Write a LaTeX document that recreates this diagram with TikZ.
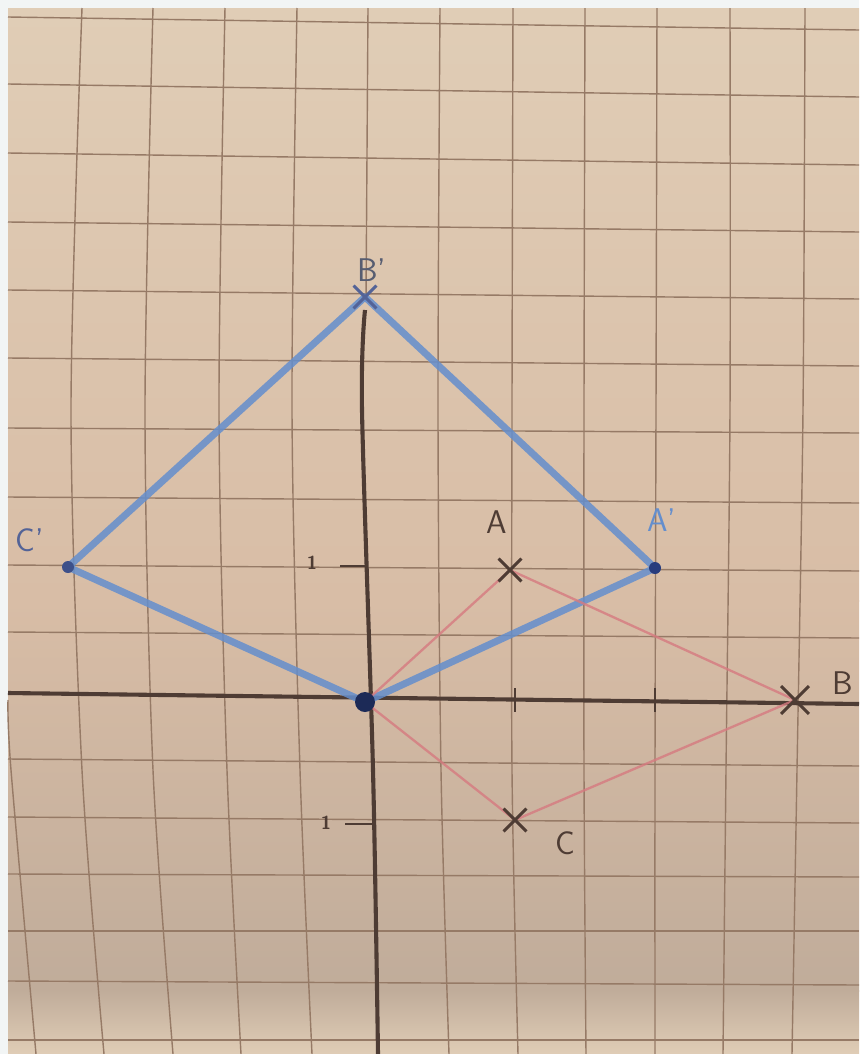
\documentclass[tikz,border=0pt]{standalone}
\usetikzlibrary{shapes.misc}
\definecolor{margin}{RGB}{242,245,245}
\definecolor{paperTop}{RGB}{224,205,182}
\definecolor{paperMid}{RGB}{216,189,166}
\definecolor{paperLow}{RGB}{192,172,154}
\definecolor{gridInk}{RGB}{150,122,102}
\definecolor{pencil}{RGB}{78,60,52}
\definecolor{bluePen}{RGB}{100,142,205}
\definecolor{darkBlue}{RGB}{40,60,125}
\definecolor{redPen}{RGB}{214,122,128}
\tikzset{
  gridline/.style={gridInk, line width=1.2pt},
  axis/.style={pencil, line width=3.5pt},
  imageside/.style={bluePen, line width=6pt, line cap=round, opacity=0.85},
  origside/.style={redPen, line width=2pt, opacity=0.8},
  crossmark/.style={cross out, draw=pencil, line width=2.5pt, minimum size=0.6cm, inner sep=0pt},
  handtext/.style={font=\sffamily\fontsize{28}{28}\selectfont},
}
\begin{document}
\begin{tikzpicture}[x=0.03cm, y=-0.03cm]
  \useasboundingbox (0,0) rectangle (859,1054);
  % paper
  \fill[margin] (0,0) rectangle (859,1054);
  \shade[top color=paperTop, bottom color=paperMid] (8,8) rectangle (859,601);
  \shade[top color=paperMid, bottom color=paperLow] (8,600) rectangle (859,991);
  \shade[top color=paperLow, bottom color=paperTop] (8,990) rectangle (859,1054);
  % squares of the paper
  \foreach \yl/\yr in {17/30, 84/97, 153/165, 222/232, 290/299, 358/366, 428/433,
      497/503, 565/571, 632/638, 759/766, 817/823, 874/877, 931/931, 981/985, 1040/1040}
    \draw[gridline] (8,\yl) -- (859,\yr);
  \foreach \a/\b/\c/\d in {82/71/82/104, 153/145/153/173, 225/219/227/241,
      297/292/300/312, 440/438/441/449, 513/512/512/518, 585/584/584/586,
      657/656/655/655, 730/730/726/723, 805/803/797/792}
    \draw[gridline] plot[smooth] coordinates {(\a,8) (\b,410) (\c,770) (\d,1054)};
  \draw[gridline] plot[smooth] coordinates {(8,700) (11,770) (36,1054)};
  \draw[gridline] (368,8) -- (366,300);
  % points
  \coordinate (O) at (365,702);
  \coordinate (A) at (510,570);
  \coordinate (B) at (795,700);
  \coordinate (C) at (515,820);
  \coordinate (Ap) at (655,568);
  \coordinate (Bp) at (365,297);
  \coordinate (Cp) at (68,567);
  \coordinate (xl) at (8,693);
  \coordinate (xr) at (859,704);
  % axes
  \draw[axis] (xl) -- (xr);
  \draw[axis] plot[smooth] coordinates {(365,310) (362,410) (373,770) (378,1054)};
  \draw[axis, line width=2pt] (515,688) -- (515,712);
  \draw[axis, line width=2pt] (655,688) -- (655,712);
  \draw[axis, line width=2pt] (340,566) -- (365,566);
  \draw[axis, line width=2pt] (345,824) -- (372,824);
  \node[handtext, font=\sffamily\bfseries\fontsize{16}{16}\selectfont, pencil] (one1) at (312,563) {1};
  \node[handtext, font=\sffamily\bfseries\fontsize{16}{16}\selectfont, pencil] (one2) at (326,823) {1};
  % image (blue)
  \draw[imageside] (Cp) -- (Bp);
  \draw[imageside] (Bp) -- (Ap);
  \draw[imageside] (Ap) -- (O);
  \draw[imageside] (O) -- (Cp);
  % original (red)
  \draw[origside] (O) -- (A);
  \draw[origside] (A) -- (B);
  \draw[origside] (B) -- (C);
  \draw[origside] (C) -- (O);
  % marks
  \node[crossmark] (mA) at (A) {};
  \node[crossmark, minimum size=0.75cm] (mB) at (B) {};
  \node[crossmark] (mC) at (C) {};
  \node[crossmark, draw=darkBlue!80] (mBp) at (Bp) {};
  \fill[darkBlue] (Ap) circle (6);
  \fill[darkBlue!90] (Cp) circle (6);
  \fill[darkBlue!70!black] (O) circle (10);
  % labels
  \node[handtext, pencil!60!bluePen] (lBp) at (372,270) {B'};
  \node[handtext, pencil] (lA) at (497,522) {A};
  \node[handtext, bluePen] (lAp) at (662,520) {A'};
  \node[handtext, darkBlue!80] (lCp) at (30,540) {C'};
  \node[handtext, pencil] (lB) at (843,683) {B};
  \node[handtext, pencil] (lC) at (565,843) {C};
\end{tikzpicture}
\end{document}
